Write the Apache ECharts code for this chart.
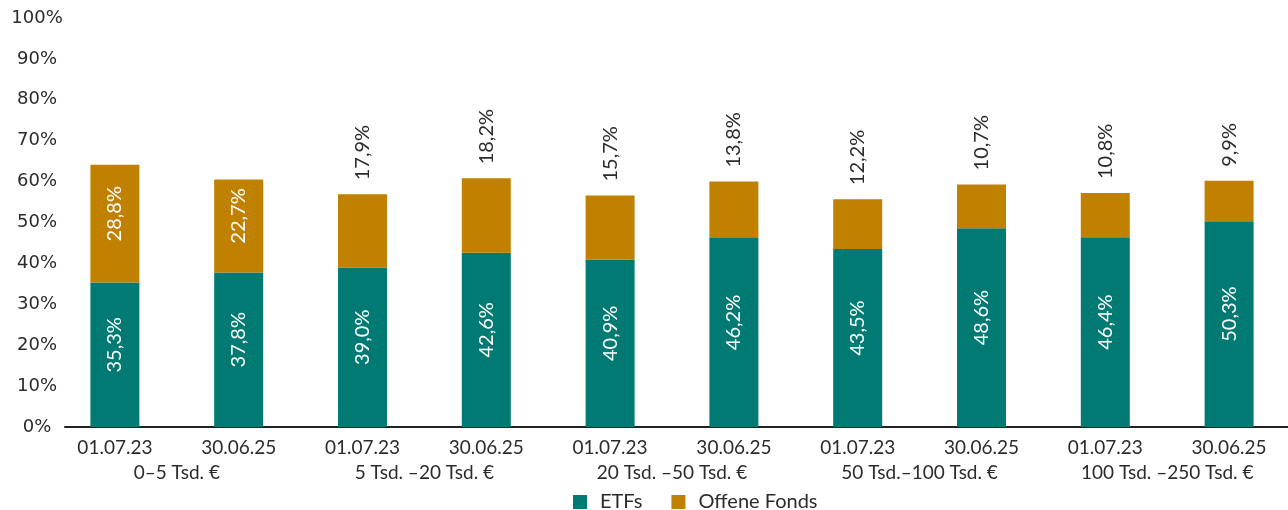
<!DOCTYPE html>
<html>
<head>
<meta charset="utf-8">
<script src="https://cdn.jsdelivr.net/npm/echarts@6/dist/echarts.min.js"></script>
<style>
  html, body { margin: 0; padding: 0; background: #fff; }
  #chart { width: 1288px; height: 510px; }
</style>
</head>
<body>
<div id="chart"></div>
<script>
// Stichtage je Balken
const dates = ['01.07.23', '30.06.25', '01.07.23', '30.06.25', '01.07.23', '30.06.25', '01.07.23', '30.06.25', '01.07.23', '30.06.25'];
// Vermögensklassen (je zwei Stichtage)
const groups = ['0–5 Tsd. €', '5 Tsd. –20 Tsd. €', '20 Tsd. –50 Tsd. €', '50 Tsd.–100 Tsd. €', '100 Tsd. –250 Tsd. €'];
// Anteile in Prozent
const etfs = [35.3, 37.8, 39.0, 42.6, 40.9, 46.2, 43.5, 48.6, 46.4, 50.3];
const offeneFonds = [28.8, 22.7, 17.9, 18.2, 15.7, 13.8, 12.2, 10.7, 10.8, 9.9];
// Beschriftungen innerhalb der Balken für die ersten Offene-Fonds-Werte
const insideCount = 2;

const TEAL = '#007a73';
const GOLD = '#c08100';
const TEXT = '#2b2b2b';
const FONT = 'Lato, "Open Sans", sans-serif';

const fmt = v => v.toFixed(1).replace('.', ',') + '%';

const chart = echarts.init(document.getElementById('chart'), null, { renderer: 'canvas' });

chart.setOption({
  animation: false,
  grid: [
    // Balkenbereich
    { left: 53, right: -3, top: 18, bottom: 83, outerBoundsMode: 'none', containLabel: false },
    // Grundlinie, etwas rechts der Achsenbeschriftung beginnend
    { left: 65, right: 0, top: 18, bottom: 83, outerBoundsMode: 'none', containLabel: false }
  ],
  legend: {
    top: 487,
    left: 568,
    itemWidth: 14,
    itemHeight: 14,
    itemGap: 29,
    icon: 'rect',
    textStyle: { fontFamily: FONT, fontSize: 20, color: TEXT, padding: [0, 0, 0, 8] },
    data: ['ETFs', 'Offene Fonds']
  },
  xAxis: [
    {
      type: 'category',
      gridIndex: 0,
      data: dates,
      position: 'bottom',
      axisLine: { show: false },
      axisTick: { show: false },
      axisLabel: { fontFamily: FONT, fontSize: 19, color: TEXT, margin: 11 }
    },
    {
      type: 'category',
      gridIndex: 0,
      data: groups,
      position: 'bottom',
      offset: 27,
      axisLine: { show: false },
      axisTick: { show: false },
      axisLabel: { fontFamily: FONT, fontSize: 19, color: TEXT, margin: 9 }
    },
    {
      type: 'value',
      gridIndex: 1,
      position: 'bottom',
      axisLine: { show: true, onZero: false, lineStyle: { color: '#222', width: 2 } },
      axisTick: { show: false },
      axisLabel: { show: false },
      splitLine: { show: false }
    }
  ],
  yAxis: [
    {
      type: 'value',
      gridIndex: 0,
      min: 0,
      max: 100,
      interval: 10,
      splitLine: { show: false },
      axisLine: { show: false },
      axisTick: { show: false },
      axisLabel: {
        formatter: v => v + '%',
        fontFamily: '"DejaVu Sans", sans-serif',
        fontSize: 18,
        color: TEXT,
        align: 'center',
        margin: 16
      }
    },
    {
      type: 'value',
      gridIndex: 1,
      show: false
    }
  ],
  series: [
    {
      name: 'ETFs',
      type: 'bar',
      stack: 'total',
      barWidth: 49,
      itemStyle: { color: TEAL },
      label: {
        show: true,
        position: 'inside',
        rotate: 90,
        offset: [10, 0],
        formatter: p => fmt(p.value),
        color: '#fff',
        fontFamily: FONT,
        fontSize: 20
      },
      data: etfs
    },
    {
      name: 'Offene Fonds',
      type: 'bar',
      stack: 'total',
      barWidth: 49,
      itemStyle: { color: GOLD },
      data: offeneFonds.map((v, i) => ({
        value: v,
        label: i < insideCount
          ? { position: 'inside', color: '#fff', align: 'center', offset: [10, 0] }
          : { position: 'top', color: TEXT, align: 'left', verticalAlign: 'middle', distance: 14 }
      })),
      label: {
        show: true,
        rotate: 90,
        formatter: p => fmt(p.value),
        fontFamily: FONT,
        fontSize: 20
      }
    }
  ]
});
</script>
</body>
</html>
